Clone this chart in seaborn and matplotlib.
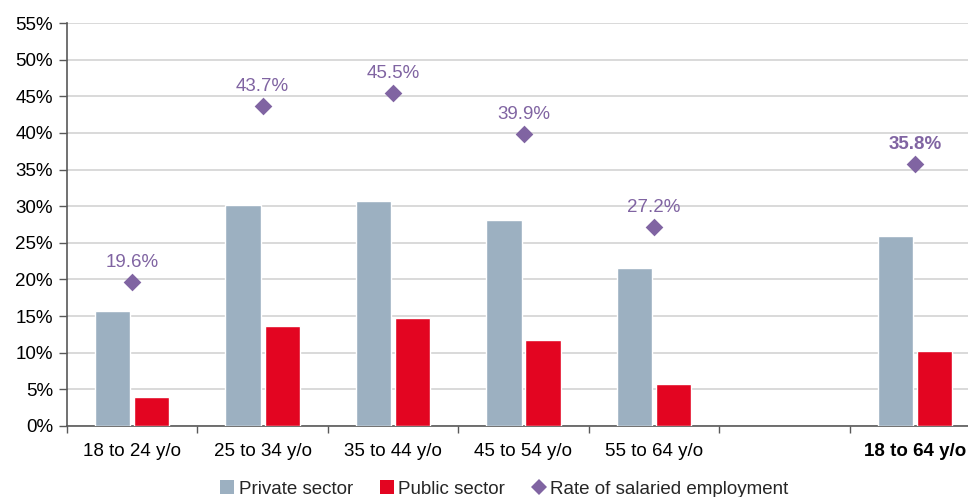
import pandas as pd
import numpy as np
import matplotlib
matplotlib.use("Agg")
import matplotlib.pyplot as plt
import seaborn as sns
from matplotlib.lines import Line2D
from matplotlib.ticker import FixedLocator, PercentFormatter

# ==========================================
# Data
# ==========================================

groups = ["18 to 24 y/o", "25 to 34 y/o", "35 to 44 y/o", "45 to 54 y/o",
          "55 to 64 y/o", " ", "18 to 64 y/o"]

private_sector = [15.7, 30.1, 30.7, 28.1, 21.5, np.nan, 25.9]
public_sector = [3.9, 13.6, 14.8, 11.7, 5.8, np.nan, 10.3]
salaried_rate = [19.6, 43.7, 45.5, 39.9, 27.2, np.nan, 35.8]

series_names = ["Private sector", "Public sector"]
rate_name = "Rate of salaried employment"

grey_blue = "#9CB0C1"
red = "#E30521"
purple = "#8064A2"

bars = pd.DataFrame({
    "group": groups * 2,
    "sector": [series_names[0]] * len(groups) + [series_names[1]] * len(groups),
    "value": private_sector + public_sector,
})

rate = pd.DataFrame({"group": groups, "rate": salaried_rate})

# ==========================================
# Figure
# ==========================================

sns.set_style("white")
plt.rcParams["font.family"] = ["Liberation Sans", "DejaVu Sans"]

font_size = 13.5

fig = plt.figure(figsize=(9.68, 4.97), dpi=100)
ax = fig.add_axes([67 / 968, 1 - 426 / 497, 913 / 968, 403 / 497])

sns.barplot(
    data=bars,
    x="group",
    y="value",
    hue="sector",
    order=groups,
    hue_order=series_names,
    palette=[grey_blue, red],
    width=0.6,
    gap=0.1,
    saturation=1,
    legend=False,
    ax=ax,
    zorder=3,
)

sns.stripplot(
    data=rate,
    x="group",
    y="rate",
    order=groups,
    jitter=False,
    marker="D",
    size=9,
    color=purple,
    linewidth=0,
    ax=ax,
    zorder=4,
)

# value labels above the diamonds
for i, val in enumerate(salaried_rate):
    if np.isnan(val):
        continue
    ax.annotate(
        f"{val:.1f}%",
        xy=(i, val),
        xytext=(0, 14),
        textcoords="offset points",
        ha="center",
        va="center",
        fontsize=font_size,
        color=purple,
        fontweight="bold" if i == len(groups) - 1 else "normal",
    )

# ==========================================
# Axes styling
# ==========================================

ax.set_xlim(-0.5, len(groups) - 0.5)
ax.set_ylim(0, 55)
ax.set_yticks(np.arange(0, 56, 5))
ax.yaxis.set_major_formatter(PercentFormatter(decimals=0))
ax.set_xlabel("")
ax.set_ylabel("")

ax.yaxis.grid(True, color="#D3D3D3", linewidth=1.2, zorder=0)
ax.set_axisbelow(True)

# ticks at slot boundaries, labels at slot centres
ax.xaxis.set_major_locator(FixedLocator(np.arange(-0.5, len(groups), 1.0)))
ax.xaxis.set_major_formatter(plt.NullFormatter())
ax.xaxis.set_minor_locator(FixedLocator(np.arange(len(groups))))
ax.set_xticklabels(groups, minor=True)
ax.tick_params(axis="x", which="major", length=5, width=1, color="#595959",
               direction="out", bottom=True)
ax.tick_params(axis="x", which="minor", length=0, pad=12, labelsize=font_size,
               labelcolor="black")
ax.tick_params(axis="y", length=6, width=1, color="#595959", direction="out",
               left=True, labelsize=font_size, labelcolor="black", pad=4)

ax.get_xticklabels(minor=True)[-1].set_fontweight("bold")

for side in ["top", "right"]:
    ax.spines[side].set_visible(False)
for side in ["left", "bottom"]:
    ax.spines[side].set_color("#595959")
    ax.spines[side].set_linewidth(1.2)

# ==========================================
# Legend
# ==========================================

handles = [
    Line2D([], [], marker="s", linestyle="", markersize=10,
           markerfacecolor=grey_blue, markeredgewidth=0),
    Line2D([], [], marker="s", linestyle="", markersize=10,
           markerfacecolor=red, markeredgewidth=0),
    Line2D([], [], marker="D", linestyle="", markersize=8,
           markerfacecolor=purple, markeredgewidth=0),
]

fig.legend(
    handles,
    series_names + [rate_name],
    loc="center",
    bbox_to_anchor=(503 / 968, 1 - 489 / 497),
    ncol=3,
    frameon=False,
    fontsize=font_size,
    handletextpad=0.1,
    columnspacing=1.3,
    handlelength=1.0,
)

fig.savefig("out.png", dpi=100)
